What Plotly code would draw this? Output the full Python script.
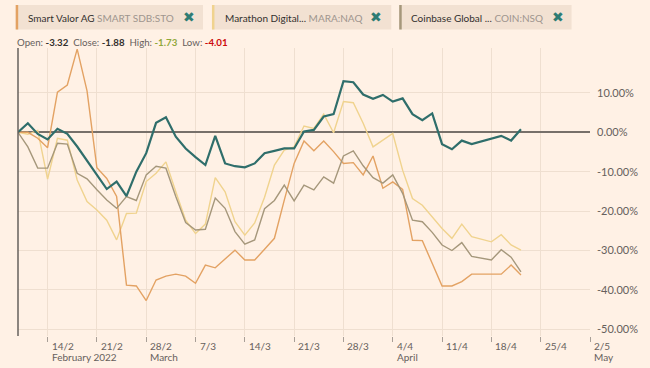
import plotly.graph_objects as go

# ---------------- data ----------------
dates = [
    "2022-02-09", "2022-02-10", "2022-02-11",
    "2022-02-14", "2022-02-15", "2022-02-16", "2022-02-17", "2022-02-18",
    "2022-02-21", "2022-02-22", "2022-02-23", "2022-02-24", "2022-02-25",
    "2022-02-28", "2022-03-01", "2022-03-02", "2022-03-03", "2022-03-04",
    "2022-03-07", "2022-03-08", "2022-03-09", "2022-03-10", "2022-03-11",
    "2022-03-14", "2022-03-15", "2022-03-16", "2022-03-17", "2022-03-18",
    "2022-03-21", "2022-03-22", "2022-03-23", "2022-03-24", "2022-03-25",
    "2022-03-28", "2022-03-29", "2022-03-30", "2022-03-31", "2022-04-01",
    "2022-04-04", "2022-04-05", "2022-04-06", "2022-04-07", "2022-04-08",
    "2022-04-11", "2022-04-12", "2022-04-13", "2022-04-14", "2022-04-15",
    "2022-04-18", "2022-04-19", "2022-04-20", "2022-04-21",
]

main_series = [
    0.0, 2.3, -0.4, -1.8, 0.9, -0.4, -3.6, -7.2, -10.6, -14.4,
    -12.5, -16.2, -10.0, -5.3, 2.4, 3.8, -1.1, -4.1, -6.3, -8.3,
    -0.9, -7.9, -8.6, -8.9, -7.9, -5.3, -4.7, -4.1, -4.1, 0.2,
    0.6, 4.0, 4.6, 13.0, 12.7, 9.6, 8.5, 9.5, 7.8, 8.6,
    4.6, 3.1, 4.8, -3.0, -4.3, -2.1, -3.0, None, None, -0.9,
    -2.1, 0.8,
]

smart_valor = [
    0.0, 0.0, -1.5, -3.9, 10.2, 12.0, 21.1, 10.5, -9.0, -11.7,
    -16.3, -38.8, -39.0, -42.7, -37.5, -36.5, -36.0, -36.5, -38.3, -33.7,
    -34.4, -32.2, -29.9, -32.4, -32.4, -29.7, -26.9, -17.2, -7.9, -2.2,
    -4.7, -2.2, -4.9, -7.9, -7.7, -10.8, -6.0, -14.2, -12.6, -14.5,
    -27.4, -27.5, -33.2, -39.0, -39.0, -37.9, -36.0, None, None, -36.0,
    -33.7, -36.2,
]

marathon = [
    0.0, -0.5, 0.5, -11.9, -1.5, -2.0, -12.1, -17.6, -19.7, -22.3,
    -27.3, -20.6, -20.5, -12.5, -10.4, -7.5, -15.1, -22.3, -25.7, -23.3,
    -11.5, -15.1, -22.7, -26.1, -23.0, -16.5, -8.3, -4.5, -3.7, 1.6,
    1.0, 4.6, -0.1, 7.8, 7.5, 2.3, -3.7, -2.0, -0.3, -9.6,
    -16.8, -18.5, -21.4, -24.4, -26.9, -23.3, -26.5, None, -27.8, -26.0,
    -28.6, -29.9,
]

coinbase = [
    0.0, -3.7, -9.1, -9.1, -2.8, -3.0, -10.4, -11.8, -14.6, -17.2,
    -19.3, -16.3, -17.3, -10.8, -8.6, -9.1, -16.3, -22.9, -24.8, -24.6,
    -16.7, -19.3, -25.2, -28.4, -27.3, -19.4, -17.3, -13.4, -17.4, -13.4,
    -14.6, -11.3, -12.9, -6.0, -4.7, -8.5, -11.5, -12.9, -10.8, -15.5,
    -22.3, -22.7, -25.4, -28.6, -30.0, -28.0, -31.5, None, -32.4, -29.8,
    -31.7, -35.4,
]

legend_names = ["Smart Valor AG", "Marathon Digital...", "Coinbase Global ..."]
legend_tickers = ["SMART SDB:STO", "MARA:NAQ", "COIN:NSQ"]

ohlc_labels = ["Open:", "Close:", "High:", "Low:"]
ohlc_values = ["-3.32", "-1.88", "-1.73", "-4.01"]

tick_dates = ["2022-02-14", "2022-02-21", "2022-02-28", "2022-03-07", "2022-03-14",
              "2022-03-21", "2022-03-28", "2022-04-04", "2022-04-11", "2022-04-18",
              "2022-04-25", "2022-05-02"]
tick_labels = ["14/2", "21/2", "28/2", "7/3", "14/3", "21/3", "28/3", "4/4",
               "11/4", "18/4", "25/4", "2/5"]
month_labels = ["February 2022", "", "March", "", "", "", "", "April", "", "", "", "May"]

y_ticks = [10, 0, -10, -20, -30, -40, -50]
y_tick_labels = ["10.00%", "0.00%", "-10.00%", "-20.00%", "-30.00%", "-40.00%", "-50.00%"]

# ---------------- style ----------------
BG = "#FFF1E5"
C_MAIN = "#2F6E6B"
C_ORANGE = "#E3A263"
C_YELLOW = "#F0D38E"
C_GREY = "#A5977B"
TEXT = "#33302E"
MUTED = "#66605C"
FONT = "Lato, Liberation Sans, Arial, sans-serif"

W, H = 650, 368
L, R, T, B = 18.3, 592.5, 48.0, 336.0


def px(x):
    return (x - L) / (R - L)


def py(y):
    return (B - y) / (B - T)


fig = go.Figure()
for vals, col, w in [(marathon, C_YELLOW, 1.4), (smart_valor, C_ORANGE, 1.4),
                     (coinbase, C_GREY, 1.4), (main_series, C_MAIN, 2.2)]:
    fig.add_trace(go.Scatter(x=dates, y=vals, mode="lines", connectgaps=True,
                             line=dict(color=col, width=w), hoverinfo="skip",
                             showlegend=False))

shapes = []
annotations = []

# left axis line
shapes.append(dict(type="line", xref="paper", yref="paper", x0=0, x1=0, y0=0, y1=1,
                   line=dict(color=MUTED, width=1.5), layer="above"))

# legend boxes
box_x = [(16, 204), (213, 393), (401, 574)]
bar_cols = [C_ORANGE, C_YELLOW, C_GREY]
name_x = [26.5, 224, 411]
x_pos = [190, 378, 560]
for (x0, x1), bc, nx, name, tick, xx in zip(box_x, bar_cols, name_x, legend_names,
                                           legend_tickers, x_pos):
    shapes.append(dict(type="rect", xref="paper", yref="paper",
                       x0=px(x0), x1=px(x1), y0=py(29.5), y1=py(5),
                       fillcolor="#F2E1D2", line=dict(width=0), layer="below"))
    shapes.append(dict(type="rect", xref="paper", yref="paper",
                       x0=px(x0), x1=px(x0 + 2.5), y0=py(29.5), y1=py(5),
                       fillcolor=bc, line=dict(width=0), layer="below"))
    annotations.append(dict(xref="paper", yref="paper", x=px(nx), y=py(17.5),
                            xanchor="left", yanchor="middle", showarrow=False,
                            text=f"{name} <span style='color:#9E958E'>{tick}</span>",
                            font=dict(size=10, color=TEXT, family=FONT)))
    annotations.append(dict(xref="paper", yref="paper", x=px(xx), y=py(17),
                            xanchor="center", yanchor="middle", showarrow=False,
                            text="✖", font=dict(size=14, color="#2E7C74",
                                                family="DejaVu Sans")))

# OHLC line
val_cols = [TEXT, TEXT, "#8FA83A", "#CC0A0A"]
parts = []
for lab, v, c in zip(ohlc_labels, ohlc_values, val_cols):
    parts.append(f"<span style='color:{MUTED}'>{lab}</span> <b><span style='color:{c}'>{v}</span></b>")
annotations.append(dict(xref="paper", yref="paper", x=px(15), y=py(42),
                        xanchor="left", yanchor="middle", showarrow=False,
                        text="  ".join(parts),
                        font=dict(size=9.7, color=TEXT, family=FONT)))

# x tick labels (left-aligned to the right of the tick mark)
for d, lab, m in zip(tick_dates, tick_labels, month_labels):
    annotations.append(dict(xref="x", yref="paper", x=d, y=0, xanchor="left",
                            yanchor="top", xshift=2, yshift=-2, showarrow=False,
                            text=lab, font=dict(size=10, color=MUTED, family=FONT)))
    if m:
        annotations.append(dict(xref="x", yref="paper", x=d, y=0, xanchor="left",
                                yanchor="top", xshift=2, yshift=-13, showarrow=False,
                                text=m, font=dict(size=10, color=MUTED, family=FONT)))

fig.update_layout(
    width=W, height=H,
    paper_bgcolor=BG, plot_bgcolor=BG,
    margin=dict(l=L, r=W - R, t=T, b=H - B, pad=0),
    font=dict(family=FONT, size=11, color=MUTED),
    shapes=shapes, annotations=annotations,
    showlegend=False,
)
fig.update_xaxes(
    type="date",
    range=["2022-02-09", "2022-05-02"],
    rangebreaks=[dict(bounds=["sat", "mon"])],
    tickvals=tick_dates, showticklabels=False,
    ticks="outside", ticklen=5, tickcolor="#A89F97", tickwidth=1,
    showgrid=True, gridcolor="#EFDFD0", gridwidth=1,
    showline=False, zeroline=False,
)
fig.update_yaxes(
    side="right",
    range=[-51.7, 21.4],
    tickvals=y_ticks, ticktext=y_tick_labels,
    ticks="", ticklabelstandoff=6,
    tickfont=dict(size=11, color=MUTED, family=FONT),
    showgrid=True, gridcolor="#EFDFD0", gridwidth=1,
    zeroline=True, zerolinecolor="#77706A", zerolinewidth=1.5,
    showline=False,
)

fig.write_html(
    "out.html",
    config={"displayModeBar": False},
    post_script="document.body.style.margin='0';document.body.style.background='#FFF1E5';",
)
